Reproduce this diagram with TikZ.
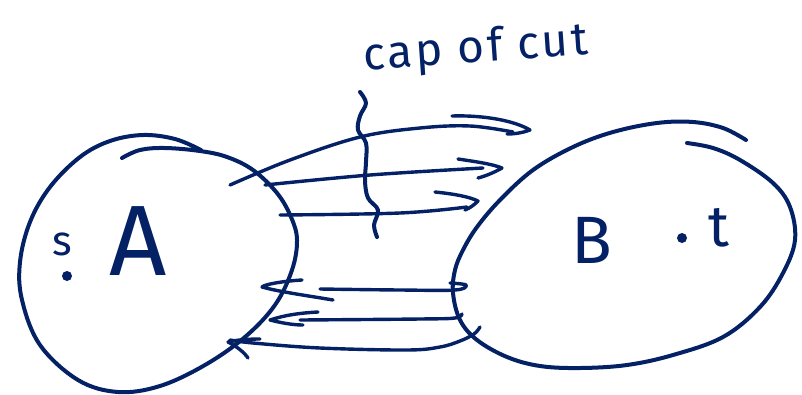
\documentclass[tikz,border=0pt]{standalone}
\usepackage{fontspec}
\setmainfont{Fira Sans}
\definecolor{ink}{RGB}{3,33,100}
\begin{document}
\begin{tikzpicture}[x=1pt,y=-1pt,
  pen/.style={draw=ink,line width=4pt,line cap=round,line join=round},
  thin pen/.style={draw=ink,line width=3.4pt,line cap=round,line join=round},
  hand/.style={text=ink,inner sep=0pt,anchor=center},
  dotmark/.style={fill=ink,draw=none}]
\useasboundingbox (0,0) rectangle (802,394);
\fill[white] (0,0) rectangle (802,394);

% set A
\draw[pen] plot[smooth,tension=0.6] coordinates {(201,150) (175,139) (143,135) (110,141) (80,157) (50,187) (30,222) (20,262) (22,300) (40,345) (78,380) (118,392) (160,386) (205,365) (245,337) (275,305) (292,270) (297,240) (291,217) (277,193) (253,170) (227,157) (200,151) (165,148) (140,150) (122,158)};
% set B
\draw[pen] plot[smooth,tension=0.6] coordinates {(746,140) (723,128) (693,122) (657,123) (613,132) (573,147) (533,170) (500,200) (477,227) (463,250) (455,270) (453,293) (460,320) (477,340) (507,357) (540,366) (580,368) (627,365) (673,355) (723,337) (760,307) (783,273) (795,240) (790,207) (773,183) (740,160) (713,148) (687,143)};

% labels
\node[hand,font=\fontsize{100}{100}\selectfont] (A) at (138,241) {A};
\node[hand,font=\fontsize{42}{42}\selectfont] (s) at (62,244) {s};
\fill[dotmark] (67,276) circle (5);
\node[hand,font=\fontsize{67}{67}\selectfont] (B) at (592,240) {B};
\fill[dotmark] (682,238) circle (5);
\node[hand,font=\fontsize{58}{58}\selectfont] (t) at (719,228) {t};
\node[hand,rotate=4,font=\fontsize{46}{46}\selectfont\addfontfeatures{LetterSpace=6}] (cap) at (476,50) {cap of cut};

% named arrow ends
\coordinate (a1s) at (230,185); \coordinate (a1e) at (530,130);
\coordinate (a2s) at (265,185); \coordinate (a2e) at (502,168);
\coordinate (a3s) at (280,215); \coordinate (a3e) at (478,201);

% top arrows (A to B)
\draw[thin pen] plot[smooth,tension=0.6] coordinates {(a1s) (290,160) (360,137) (420,128) (470,126) (513,132)};
\draw[thin pen] (452,116) .. controls (485,115) and (515,121) .. (a1e) .. controls (522,133) and (514,134) .. (507,134);
\draw[thin pen] plot[smooth,tension=0.6] coordinates {(a2s) (370,175) (483,168)};
\draw[thin pen] (458,159) .. controls (478,162) and (492,164) .. (a2e) .. controls (495,172) and (486,176) .. (478,178);
\draw[thin pen] plot[smooth,tension=0.6] coordinates {(a3s) (400,213) (467,207)};
\draw[thin pen] (435,192) .. controls (455,194) and (470,197) .. (a3e) .. controls (474,205) and (470,208) .. (465,210);

% brace squiggle
\draw[pen] plot[smooth,tension=0.6] coordinates {(360,92) (366,103) (360,116) (358,130) (366,143) (366,162) (365,181) (368,198) (378,210) (374,225) (377,237)};

% bottom arrows (B to A)
\coordinate (b1s) at (455,290); \coordinate (b1e) at (262,287);
\coordinate (b2s) at (462,314); \coordinate (b2e) at (270,320);
\coordinate (b3s) at (480,327); \coordinate (b3e) at (228,342);
\draw[thin pen] plot[smooth,tension=0.6] coordinates {(450,283) (466,285) (b1s) (400,290) (320,289)};
\draw[thin pen] (302,280) .. controls (285,281) and (265,284) .. (b1e) .. controls (280,292) and (310,296) .. (333,300);
\draw[thin pen] plot[smooth,tension=0.6] coordinates {(b2s) (455,318) (420,319) (300,320)};
\draw[thin pen] (318,312) .. controls (300,313) and (285,315) .. (b2e) .. controls (282,323) and (293,325) .. (303,325);
\draw[thin pen] plot[smooth,tension=0.6] coordinates {(b3s) (474,334) (460,341) (440,347) (407,350) (320,348) (253,343) (230,340)};
\draw[thin pen] (260,339) .. controls (248,339) and (236,340) .. (b3e) .. controls (236,346) and (244,352) .. (248,358);
\end{tikzpicture}
\end{document}
